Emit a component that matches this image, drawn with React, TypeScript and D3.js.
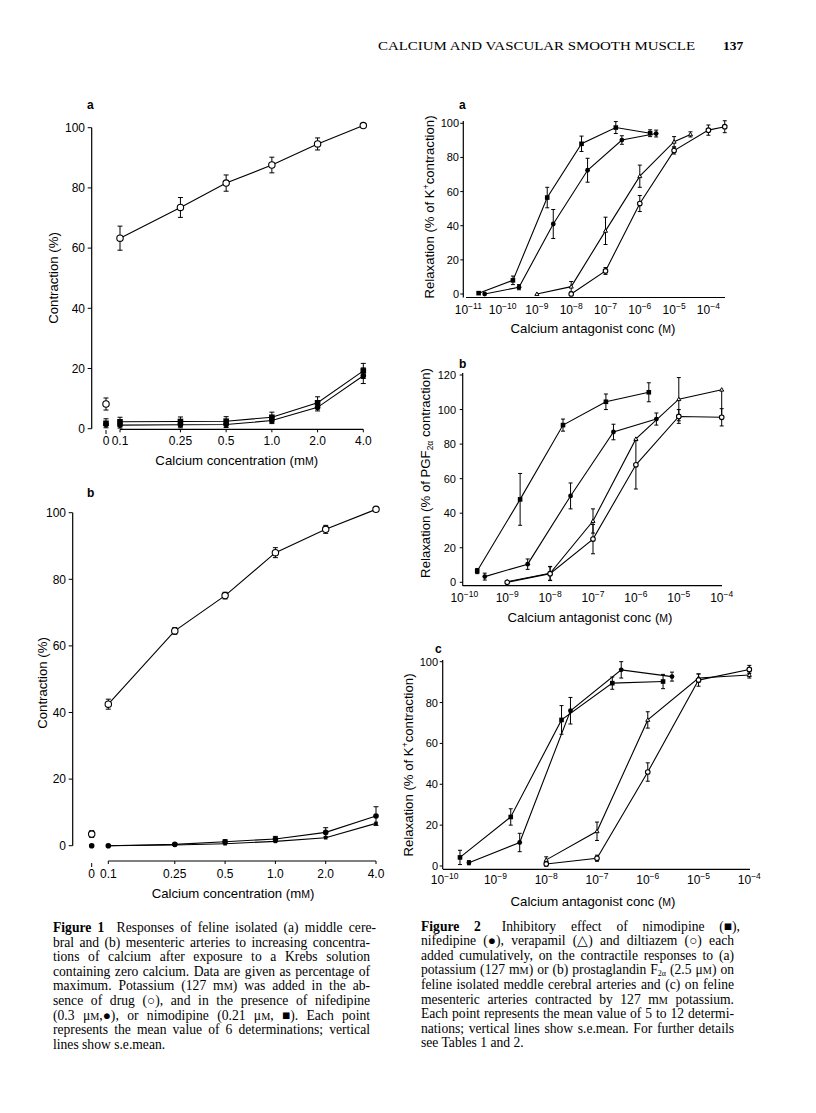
import React, { useLayoutEffect, useRef, useState } from 'react';
import * as d3 from 'd3';

// ---------------- Figure 1 data ----------------
const fig1Conc = [0.1, 0.25, 0.5, 1.0, 2.0, 4.0];
const fig1TickLabels = ['0.1', '0.25', '0.5', '1.0', '2.0', '4.0'];
const fig1YTicks = [0, 20, 40, 60, 80, 100];

const fig1aControl = [63.3, 73.5, 81.6, 87.6, 94.6, 100.7];
const fig1aControlErr = [4, 3.3, 2.7, 2.6, 2, 0];
const fig1aNimodipine = [2.3, 2.4, 2.5, 3.8, 8.6, 19.2];
const fig1aNimodipineErr = [1.5, 1.5, 1.5, 1.7, 2, 2.5];
const fig1aNifedipine = [1.2, 1.3, 1.4, 2.7, 7.1, 17.6];
const fig1aNifedipineErr = [1, 1, 1, 1, 1.2, 2.6];
// zero calcium points: control, nimodipine, nifedipine
const fig1aZero = [8.2, 1.8, 1.4];
const fig1aZeroErr = [2, 1.5, 0];

const fig1bControl = [42.5, 64.5, 75.1, 88, 95, 101];
const fig1bControlErr = [1.5, 1, 1, 1.5, 1.2, 0];
const fig1bNifedipine = [0, 0.4, 1.2, 2, 4, 8.9];
const fig1bNifedipineErr = [0, 0.3, 0.6, 0.8, 1.4, 2.8];
const fig1bNimodipine = [0, 0.2, 0.6, 1.3, 2.4, 6.7];
const fig1bNimodipineErr = [0, 0, 0, 0, 0, 0];
const fig1bZero = [3.5, 0, 0];
const fig1bZeroErr = [1, 0, 0];

// ---------------- Figure 2 data ----------------
const fig2aXExp = [-11, -10, -9, -8, -7, -6, -5, -4];
const fig2bcXExp = [-10, -9, -8, -7, -6, -5, -4];
const fig2YTicks100 = [0, 20, 40, 60, 80, 100];
const fig2YTicks120 = [0, 20, 40, 60, 80, 100, 120];

const fig2aNimodipineX = [2e-11, 2e-10, 2e-9, 2e-8, 2e-7, 2e-6];
const fig2aNimodipine = [0.5, 8, 56.5, 88, 97.5, 94.2];
const fig2aNimodipineErr = [0, 2.5, 6, 4.5, 3.5, 2];
const fig2aNifedipineX = [3e-11, 3e-10, 3e-9, 3e-8, 3e-7, 3e-6];
const fig2aNifedipine = [0, 4, 41, 72.5, 90.2, 94];
const fig2aNifedipineErr = [0, 1.5, 8.5, 7, 2.5, 2];
const fig2aVerapamilX = [1e-9, 1e-8, 1e-7, 1e-6, 1e-5, 3e-5];
const fig2aVerapamil = [0, 4.3, 37, 69, 89.2, 93.5];
const fig2aVerapamilErr = [0, 3, 8, 6.5, 3, 1.5];
const fig2aDiltiazemX = [1e-8, 1e-7, 1e-6, 1e-5, 1e-4, 3e-4];
const fig2aDiltiazem = [0, 13.5, 53, 84, 96, 98];
const fig2aDiltiazemErr = [0, 2, 4.7, 2, 3, 3.5];

const fig2bNimodipineX = [2e-10, 2e-9, 2e-8, 2e-7, 2e-6];
const fig2bNimodipine = [6.5, 48, 91, 104.5, 110];
const fig2bNimodipineErr: (number | [number, number])[] = [1.5, 15, 3.5, 4.5, 5.5];
const fig2bNifedipineX = [3e-10, 3e-9, 3e-8, 3e-7, 3e-6];
const fig2bNifedipine = [3.3, 10.5, 50, 87, 94.5];
const fig2bNifedipineErr: (number | [number, number])[] = [2, 3, 7.5, 4.5, 3.5];
const fig2bVerapamilX = [1e-9, 1e-8, 1e-7, 1e-6, 1e-5, 1e-4];
const fig2bVerapamil = [0.4, 5.2, 35.5, 83, 106, 111.5];
const fig2bVerapamilErr: (number | [number, number])[] = [0, 4, 7, 0, 12.5, [15, 0]];
const fig2bDiltiazemX = [1e-9, 1e-8, 1e-7, 1e-6, 1e-5, 1e-4];
const fig2bDiltiazem = [0, 5, 25, 68, 96, 95.5];
const fig2bDiltiazemErr: (number | [number, number])[] = [0, 4, 8.5, 14, 4, 5];

const fig2cNimodipineX = [2e-10, 2e-9, 2e-8, 2e-7, 2e-6];
const fig2cNimodipine = [4.2, 24, 71.5, 89.5, 90.3];
const fig2cNimodipineErr = [3.5, 4, 7, 3, 3.5];
const fig2cNifedipineX = [3e-10, 3e-9, 3e-8, 3e-7, 3e-6];
const fig2cNifedipine = [1.6, 11.5, 76, 96, 92.7];
const fig2cNifedipineErr = [1, 4.5, 6.5, 4, 2.2];
const fig2cVerapamilX = [1e-8, 1e-7, 1e-6, 1e-5, 1e-4];
const fig2cVerapamil = [3, 17, 71.5, 92, 93.5];
const fig2cVerapamilErr = [1.5, 4.5, 4, 2, 1.5];
const fig2cDiltiazemX = [1e-8, 1e-7, 1e-6, 1e-5, 1e-4];
const fig2cDiltiazem = [1, 3.8, 46, 91, 96.2];
const fig2cDiltiazemErr = [1, 1.5, 4.5, 3, 2];

// ---------------- Text ----------------
const headerText = 'CALCIUM AND VASCULAR SMOOTH MUSCLE';
const pageNumber = '137';

const MU = '\u03BC';
const SQ = '\u25A0';
const DOT = '\u25CF';
const CIRC = '\u25CB';
const TRI = '\u25B3';
const ALPHA = '\u03B1';

const SANS = '"Liberation Sans", Arial, Helvetica, sans-serif';
const SERIF = '"Liberation Serif", "Times New Roman", serif';

type Err = number | [number, number];
type MarkerKind = 'oc' | 'fc' | 'fs' | 'ot';

function Marker({ kind, x, y, s }: { kind: MarkerKind; x: number; y: number; s: number }) {
  if (kind === 'oc') return <circle cx={x} cy={y} r={s} fill="#fff" stroke="#000" strokeWidth={1.1} />;
  if (kind === 'fc') return <circle cx={x} cy={y} r={s} fill="#000" />;
  if (kind === 'fs') return <rect x={x - s} y={y - s} width={2 * s} height={2 * s} fill="#000" />;
  const h = s * 1.2;
  return (
    <path
      d={`M${x},${y - h}L${x + h},${y + h * 0.7}L${x - h},${y + h * 0.7}Z`}
      fill="#fff"
      stroke="#000"
      strokeWidth={1}
    />
  );
}

function Series({
  xs, ys, errs, xScale, yScale, kind, size, cap = 2.5,
}: {
  xs: number[]; ys: number[]; errs: Err[]; xScale: (v: number) => number; yScale: d3.ScaleLinear<number, number>;
  kind: MarkerKind; size: number; cap?: number;
}) {
  const pts = xs.map((x, i) => [xScale(x), yScale(ys[i])] as [number, number]);
  const line = d3.line()(pts) || '';
  return (
    <g>
      <path d={line} fill="none" stroke="#000" strokeWidth={1.1} />
      {pts.map(([px], i) => {
        const e = errs[i];
        const lo = Array.isArray(e) ? e[0] : e;
        const hi = Array.isArray(e) ? e[1] : e;
        if (!lo && !hi) return null;
        const y1 = yScale(ys[i] - lo);
        const y2 = yScale(ys[i] + hi);
        return (
          <g key={i} stroke="#000" strokeWidth={1}>
            <line x1={px} x2={px} y1={y1} y2={y2} />
            {hi ? <line x1={px - cap} x2={px + cap} y1={y2} y2={y2} /> : null}
            {lo ? <line x1={px - cap} x2={px + cap} y1={y1} y2={y1} /> : null}
          </g>
        );
      })}
      {pts.map(([px, py], i) => <Marker key={i} kind={kind} x={px} y={py} s={size} />)}
    </g>
  );
}

const TITLE_FS = 13.2;

// ---------------- Figure 1 panel ----------------
function Fig1Panel({
  label, labelPos, xRange, yRange, yAxisX, xAxisY, zeroX, zeroTick, yLabelX, xLabelY, titlePos, yTitlePos,
  control, controlErr, nimo, nimoErr, nife, nifeErr, zero, zeroErr, nimoSize, ctrlSize,
}: any) {
  const x = d3.scaleLog().domain([0.1, 4]).range(xRange);
  const y = d3.scaleLinear().domain([0, 100]).range(yRange);
  return (
    <g fontFamily={SANS}>
      <text x={labelPos[0]} y={labelPos[1]} fontSize={12} fontWeight="bold">{label}</text>
      <line x1={yAxisX} x2={yAxisX} y1={y(100)} y2={y(0)} stroke="#000" strokeWidth={1.2} />
      {fig1YTicks.map((t) => (
        <g key={t}>
          <line x1={yAxisX - 4} x2={yAxisX} y1={y(t)} y2={y(t)} stroke="#000" strokeWidth={1} />
          <text x={yLabelX} y={y(t) + 4.3} fontSize={12} textAnchor="end">{t}</text>
        </g>
      ))}
      <line x1={x(0.1)} x2={x(4)} y1={xAxisY} y2={xAxisY} stroke="#000" strokeWidth={1.2} />
      {fig1Conc.map((c, i) => (
        <g key={c}>
          <line x1={x(c)} x2={x(c)} y1={xAxisY} y2={xAxisY + 3} stroke="#000" strokeWidth={1} />
          <text x={x(c)} y={xLabelY} fontSize={12} textAnchor="middle">{fig1TickLabels[i]}</text>
        </g>
      ))}
      <line x1={zeroX} x2={zeroX} y1={zeroTick[0]} y2={zeroTick[1]} stroke="#000" strokeWidth={1} />
      <text x={zeroX} y={xLabelY} fontSize={12} textAnchor="middle">0</text>
      <text x={titlePos[0]} y={titlePos[1]} fontSize={TITLE_FS} textAnchor="middle">
        Calcium concentration (m<tspan fontSize={10.5}>M</tspan>)
      </text>
      <text transform={`translate(${yTitlePos[0]},${yTitlePos[1]}) rotate(-90)`} fontSize={TITLE_FS} textAnchor="middle">
        Contraction (%)
      </text>
      <Series xs={fig1Conc} ys={nimo} errs={nimoErr} xScale={x} yScale={y} kind="fs" size={nimoSize} />
      <Series xs={fig1Conc} ys={nife} errs={nifeErr} xScale={x} yScale={y} kind="fc" size={2.8} />
      <Series xs={fig1Conc} ys={control} errs={controlErr} xScale={x} yScale={y} kind="oc" size={ctrlSize} />
      <Series xs={[1]} ys={[zero[1]]} errs={[zeroErr[1]]} xScale={() => zeroX} yScale={y} kind="fs" size={nimoSize} />
      <Series xs={[1]} ys={[zero[2]]} errs={[zeroErr[2]]} xScale={() => zeroX} yScale={y} kind="fc" size={2.8} />
      <Series xs={[1]} ys={[zero[0]]} errs={[zeroErr[0]]} xScale={() => zeroX} yScale={y} kind="oc" size={ctrlSize} />
    </g>
  );
}

// ---------------- Figure 2 panel ----------------
function Fig2Panel({
  label, labelPos, xDomain, xRange, yMax, yTicks, yRange, yAxisX, yAxisSpan, xAxisY, xAxisSpan, yLabelX, xLabelY,
  xExps, titlePos, yTitlePos, yTitle, series,
}: any) {
  const x = d3.scaleLog().domain(xDomain).range(xRange);
  const y = d3.scaleLinear().domain([0, yMax]).range(yRange);
  return (
    <g fontFamily={SANS}>
      <text x={labelPos[0]} y={labelPos[1]} fontSize={12} fontWeight="bold">{label}</text>
      <line x1={yAxisX} x2={yAxisX} y1={yAxisSpan[0]} y2={yAxisSpan[1]} stroke="#000" strokeWidth={1.2} />
      {yTicks.map((t: number) => (
        <g key={t}>
          <line x1={yAxisX - 3} x2={yAxisX} y1={y(t)} y2={y(t)} stroke="#000" strokeWidth={1} />
          <text x={yLabelX} y={y(t) + 4} fontSize={11} textAnchor="end">{t}</text>
        </g>
      ))}
      <line x1={xAxisSpan[0]} x2={xAxisSpan[1]} y1={xAxisY} y2={xAxisY} stroke="#000" strokeWidth={1.2} />
      {xExps.map((e: number) => (
        <text key={e} x={x(Math.pow(10, e))} y={xLabelY} fontSize={12} textAnchor="middle">
          10<tspan fontSize={8.5} dy={-5}>{'\u2212' + Math.abs(e)}</tspan>
        </text>
      ))}
      <text x={titlePos[0]} y={titlePos[1]} fontSize={TITLE_FS} textAnchor="middle">
        Calcium antagonist conc (<tspan fontSize={10.5}>M</tspan>)
      </text>
      <text transform={`translate(${yTitlePos[0]},${yTitlePos[1]}) rotate(-90)`} fontSize={TITLE_FS} textAnchor="middle">
        {yTitle}
      </text>
      {series.map((s: any, i: number) => (
        <Series key={i} xs={s.xs} ys={s.ys} errs={s.errs} xScale={x} yScale={y} kind={s.kind} size={s.size} cap={2} />
      ))}
    </g>
  );
}

// ---------------- Caption (justified) ----------------
const CAP_FS = 13.6;

function JLine({ x, y, width, justify, children }: { x: number; y: number; width: number; justify: boolean; children: React.ReactNode }) {
  const ref = useRef<SVGTextElement>(null);
  const [ws, setWs] = useState(0);
  useLayoutEffect(() => {
    const el = ref.current;
    if (!justify || !el) return;
    el.style.wordSpacing = '0px';
    let natural = 0;
    try {
      natural = el.getComputedTextLength();
    } catch (e) {
      return;
    }
    const txt = (el.textContent || '').replace(/\s+/g, ' ').trim();
    const spaces = txt.split(' ').length - 1;
    if (spaces > 0 && natural > 0) setWs((width - natural) / spaces);
  }, [justify, width]);
  return (
    <text ref={ref} x={x} y={y} style={{ wordSpacing: `${ws}px` }}>
      {children}
    </text>
  );
}

function Caption({ x, width, y0, step, lines }: { x: number; width: number; y0: number; step: number; lines: React.ReactNode[] }) {
  return (
    <g fontFamily={SERIF} fontSize={CAP_FS}>
      {lines.map((l, i) => (
        <JLine key={i} x={x} y={y0 + i * step} width={width} justify={i !== lines.length - 1}>
          {l}
        </JLine>
      ))}
    </g>
  );
}

const sm = (t: string) => <tspan fontSize={10.2}>{t}</tspan>;

const caption1: React.ReactNode[] = [
  <><tspan fontWeight="bold">Figure 1</tspan><tspan dx={6}>{' Responses of feline isolated (a) middle cere-'}</tspan></>,
  'bral and (b) mesenteric arteries to increasing concentra-',
  'tions of calcium after exposure to a Krebs solution',
  'containing zero calcium. Data are given as percentage of',
  <>{'maximum. Potassium (127 m'}{sm('M')}{') was added in the ab-'}</>,
  `sence of drug (${CIRC}), and in the presence of nifedipine`,
  <>{`(0.3 ${MU}`}{sm('M')}{`,${DOT}), or nimodipine (0.21 ${MU}`}{sm('M')}{`, ${SQ}). Each point`}</>,
  'represents the mean value of 6 determinations; vertical',
  'lines show s.e.mean.',
];

const caption2: React.ReactNode[] = [
  <><tspan fontWeight="bold">Figure 2</tspan><tspan dx={6}>{` Inhibitory effect of nimodipine (${SQ}),`}</tspan></>,
  `nifedipine (${DOT}), verapamil (${TRI}) and diltiazem (${CIRC}) each`,
  'added cumulatively, on the contractile responses to (a)',
  <>{'potassium (127 m'}{sm('M')}{') or (b) prostaglandin F'}<tspan fontSize={8} dy={2}>{'2' + ALPHA}</tspan><tspan dy={-2}>{` (2.5 ${MU}`}</tspan>{sm('M')}{') on'}</>,
  'feline isolated meddle cerebral arteries and (c) on feline',
  <>{'mesenteric arteries contracted by 127 m'}{sm('M')}{' potassium.'}</>,
  'Each point represents the mean value of 5 to 12 determi-',
  'nations; vertical lines show s.e.mean. For further details',
  'see Tables 1 and 2.',
];

export default function App() {
  const yTitleK = (
    <>{'Relaxation (% of K'}<tspan fontSize={8.5} dy={-5}>+</tspan><tspan dy={5}>contraction)</tspan></>
  );
  const yTitlePGF = (
    <>{'Relaxation (% of PGF'}<tspan fontSize={8.5} dy={3}>{'2' + ALPHA}</tspan><tspan dy={-3}> contraction)</tspan></>
  );
  return (
    <svg width={816} height={1113} viewBox="0 0 816 1113" style={{ position: 'absolute', left: 0, top: 0, background: '#fff' }}>
      <rect width={816} height={1113} fill="#fff" />
      <text x={378} y={50} fontFamily={SERIF} fontSize={13.5} textLength={317} lengthAdjust="spacingAndGlyphs">{headerText}</text>
      <text x={723} y={50} fontFamily={SERIF} fontSize={13.5} fontWeight="bold">{pageNumber}</text>

      <Fig1Panel
        label="a" labelPos={[87, 109]} xRange={[120, 363.3]} yRange={[428.7, 127.7]} yAxisX={91.7} xAxisY={429.3}
        zeroX={106} zeroTick={[430, 434]} yLabelX={85} xLabelY={444.5} titlePos={[236.7, 464.5]} yTitlePos={[58, 278]}
        control={fig1aControl} controlErr={fig1aControlErr} nimo={fig1aNimodipine} nimoErr={fig1aNimodipineErr}
        nife={fig1aNifedipine} nifeErr={fig1aNifedipineErr} zero={fig1aZero} zeroErr={fig1aZeroErr} nimoSize={2.8} ctrlSize={3.2}
      />
      <Fig1Panel
        label="b" labelPos={[87, 497]} xRange={[108.3, 376]} yRange={[845.7, 512.7]} yAxisX={72.7} xAxisY={861}
        zeroX={91.7} zeroTick={[863, 867]} yLabelX={66} xLabelY={877.5} titlePos={[233, 897.5]} yTitlePos={[47, 683]}
        control={fig1bControl} controlErr={fig1bControlErr} nimo={fig1bNimodipine} nimoErr={fig1bNimodipineErr}
        nife={fig1bNifedipine} nifeErr={fig1bNifedipineErr} zero={fig1bZero} zeroErr={fig1bZeroErr} nimoSize={1.8} ctrlSize={3.2}
      />

      <Fig2Panel
        label="a" labelPos={[459, 109]} xDomain={[1e-11, 1e-4]} xRange={[468.3, 708.4]} yMax={100} yTicks={fig2YTicks100}
        yRange={[294, 123.3]} yAxisX={463.3} yAxisSpan={[121, 297.5]} xAxisY={297.5} xAxisSpan={[466, 725]}
        yLabelX={459} xLabelY={313.5} xExps={fig2aXExp} titlePos={[593, 332.5]} yTitlePos={[434, 207]} yTitle={yTitleK}
        series={[
          { xs: fig2aNimodipineX, ys: fig2aNimodipine, errs: fig2aNimodipineErr, kind: 'fs', size: 2.3 },
          { xs: fig2aNifedipineX, ys: fig2aNifedipine, errs: fig2aNifedipineErr, kind: 'fc', size: 2.4 },
          { xs: fig2aVerapamilX, ys: fig2aVerapamil, errs: fig2aVerapamilErr, kind: 'ot', size: 1.7 },
          { xs: fig2aDiltiazemX, ys: fig2aDiltiazem, errs: fig2aDiltiazemErr, kind: 'oc', size: 2.3 },
        ]}
      />
      <Fig2Panel
        label="b" labelPos={[459, 368]} xDomain={[1e-10, 1e-4]} xRange={[464.3, 721.7]} yMax={120} yTicks={fig2YTicks120}
        yRange={[582.3, 375]} yAxisX={462.7} yAxisSpan={[373, 585.7]} xAxisY={585.7} xAxisSpan={[462.7, 722]}
        yLabelX={456} xLabelY={601.5} xExps={fig2bcXExp} titlePos={[590, 621.5]} yTitlePos={[430, 473]} yTitle={yTitlePGF}
        series={[
          { xs: fig2bNimodipineX, ys: fig2bNimodipine, errs: fig2bNimodipineErr, kind: 'fs', size: 2.3 },
          { xs: fig2bNifedipineX, ys: fig2bNifedipine, errs: fig2bNifedipineErr, kind: 'fc', size: 2.4 },
          { xs: fig2bVerapamilX, ys: fig2bVerapamil, errs: fig2bVerapamilErr, kind: 'ot', size: 1.7 },
          { xs: fig2bDiltiazemX, ys: fig2bDiltiazem, errs: fig2bDiltiazemErr, kind: 'oc', size: 2.3 },
        ]}
      />
      <Fig2Panel
        label="c" labelPos={[435, 652.5]} xDomain={[1e-10, 1e-4]} xRange={[444.7, 749.3]} yMax={100} yTicks={fig2YTicks100}
        yRange={[866, 661.7]} yAxisX={442.7} yAxisSpan={[660, 869.3]} xAxisY={869.3} xAxisSpan={[443, 750]}
        yLabelX={438} xLabelY={883.5} xExps={fig2bcXExp} titlePos={[593, 905.5]} yTitlePos={[413, 765]} yTitle={yTitleK}
        series={[
          { xs: fig2cNimodipineX, ys: fig2cNimodipine, errs: fig2cNimodipineErr, kind: 'fs', size: 2.3 },
          { xs: fig2cNifedipineX, ys: fig2cNifedipine, errs: fig2cNifedipineErr, kind: 'fc', size: 2.4 },
          { xs: fig2cVerapamilX, ys: fig2cVerapamil, errs: fig2cVerapamilErr, kind: 'ot', size: 1.7 },
          { xs: fig2cDiltiazemX, ys: fig2cDiltiazem, errs: fig2cDiltiazemErr, kind: 'oc', size: 2.3 },
        ]}
      />

      <Caption x={53} width={317} y0={932} step={14.6} lines={caption1} />
      <Caption x={421} width={313} y0={930.5} step={14.6} lines={caption2} />
    </svg>
  );
}
